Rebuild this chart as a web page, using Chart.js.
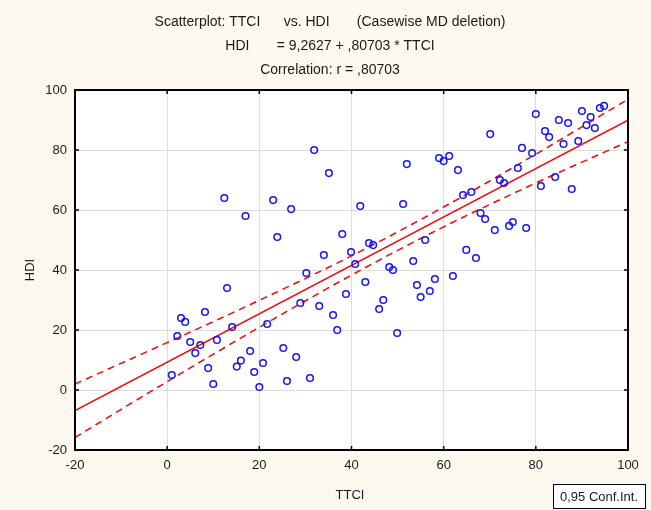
<!DOCTYPE html>
<html>
<head>
<meta charset="utf-8">
<script src="https://cdn.jsdelivr.net/npm/chart.js@4/dist/chart.umd.min.js"></script>
<style>
  body { margin: 0; background: #fdf9ee; }
  #wrap { width: 651px; height: 510px; position: relative; }
</style>
</head>
<body>
<div id="wrap"><canvas id="scatter-chart"></canvas></div>
<script>
const ttci = [1, 2.2, 3, 3.9, 5, 6.1, 7.2, 8.2, 8.9, 10, 10.8, 12.4, 13, 14.1, 15.1, 16, 17, 18, 18.9, 20,
  20.8, 21.7, 23, 23.9, 25.2, 26, 26.9, 28, 28.9, 30.2, 31, 31.9, 33, 34, 35.1, 36, 36.9, 38, 38.8, 39.9,
  40.8, 41.9, 43, 43.8, 44.7, 46, 46.9, 48.2, 49, 49.9, 51.2, 52, 53.4, 54.2, 55, 56, 57, 58.1, 59, 60,
  61.2, 62, 63.1, 64.2, 64.9, 66, 67, 68, 69, 70.1, 71.1, 72.2, 73.1, 74.2, 75, 76.1, 77, 77.9, 79.2, 80,
  81.1, 82, 82.9, 84.2, 85, 86, 87, 87.8, 89.2, 90, 91, 91.9, 92.8, 93.9, 94.8];
const hdi = [5, 18, 24, 22.7, 16, 12.3, 15, 26, 7.3, 2, 16.7, 64, 34, 21, 7.8, 9.8, 58, 13, 6, 1,
  9, 22, 63.3, 51, 14, 3, 60.3, 11, 29, 39, 4, 80, 28, 45, 72.3, 25, 20, 52, 32, 46,
  42, 61.3, 36, 49, 48.3, 27, 30, 41, 40, 19, 62, 75.3, 43, 35, 31, 50, 33, 37, 77.3, 76.3,
  78, 38, 73.3, 65, 46.7, 66, 44, 59, 57, 85.3, 53.3, 70, 69, 54.7, 56, 74, 80.7, 54, 79, 92,
  68, 86.3, 84.3, 71, 90, 82, 89, 67, 83, 93, 88.3, 91, 87.3, 94, 94.7];

// regression HDI = 9,2627 + ,80703 * TTCI
const intercept = 9.2627;
const slope = 0.80703;
const fitX = [-20, 100];

// 0,95 confidence band
const bandX = [-20, 0, 20, 40, 60, 80, 100];
const bandUpper = [2.0, 15.8, 29.9, 44.7, 61.0, 78.6, 96.9];
const bandLower = [-15.8, 2.8, 20.9, 38.3, 54.4, 69.0, 82.8];

const titleLines = [
  'Scatterplot: TTCI      vs. HDI       (Casewise MD deletion)',
  'HDI       = 9,2627 + ,80703 * TTCI',
  'Correlation: r = ,80703'
];
const xTicks = [-20, 0, 20, 40, 60, 80, 100];
const yTicks = [-20, 0, 20, 40, 60, 80, 100];

const FONT = '"Liberation Sans", Arial, sans-serif';

const framePlugin = {
  id: 'frame',
  beforeDraw(chart) {
    const { ctx, chartArea: a } = chart;
    ctx.save();
    ctx.fillStyle = '#ffffff';
    ctx.fillRect(a.left, a.top, a.right - a.left, a.bottom - a.top);
    ctx.restore();
  },
  afterDraw(chart) {
    const { ctx, chartArea: a, scales } = chart;
    ctx.save();
    ctx.strokeStyle = '#000';
    ctx.lineWidth = 2;
    ctx.strokeRect(a.left, a.top, a.right - a.left, a.bottom - a.top);
    // inward tick marks
    ctx.lineWidth = 1.5;
    ctx.beginPath();
    xTicks.forEach((v) => {
      const px = scales.x.getPixelForValue(v);
      ctx.moveTo(px, a.top); ctx.lineTo(px, a.top + 4);
      ctx.moveTo(px, a.bottom); ctx.lineTo(px, a.bottom - 4);
    });
    yTicks.forEach((v) => {
      const py = scales.y.getPixelForValue(v);
      ctx.moveTo(a.left, py); ctx.lineTo(a.left + 4, py);
      ctx.moveTo(a.right, py); ctx.lineTo(a.right - 4, py);
    });
    ctx.stroke();

    // titles
    ctx.fillStyle = '#1a1a1a';
    ctx.font = '14px ' + FONT;
    ctx.textAlign = 'center';
    ctx.textBaseline = 'middle';
    titleLines.forEach((line, i) => ctx.fillText(line, 330, 22 + i * 24));

    // axis titles
    ctx.font = '13px ' + FONT;
    ctx.fillText('TTCI', 350, 495);
    ctx.save();
    ctx.translate(30, 270);
    ctx.rotate(-Math.PI / 2);
    ctx.fillText('HDI', 0, 0);
    ctx.restore();

    // conf. int. box
    ctx.fillStyle = '#ffffff';
    ctx.fillRect(553, 484, 92, 24);
    ctx.strokeStyle = '#000';
    ctx.lineWidth = 1;
    ctx.strokeRect(553.5, 484.5, 92, 24);
    ctx.fillStyle = '#1a1a1a';
    ctx.fillText('0,95 Conf.Int.', 599, 497);
    ctx.restore();
  }
};

const ctx = document.querySelector('#scatter-chart');

const datasets = [
  {
    type: 'scatter',
    label: 'HDI',
    data: ttci.map((x, i) => ({ x, y: hdi[i] })),
    borderColor: '#1414ff',
    backgroundColor: 'rgba(0,0,0,0)',
    borderWidth: 1.5,
    pointRadius: 3.3,
    order: 1
  },
  {
    type: 'line',
    label: 'Fit',
    data: fitX.map((x) => ({ x, y: intercept + slope * x })),
    borderColor: '#ff0000',
    borderWidth: 1.5,
    pointRadius: 0,
    order: 2
  },
  {
    type: 'line',
    label: 'Upper',
    data: bandX.map((x, i) => ({ x, y: bandUpper[i] })),
    borderColor: '#ff0000',
    borderWidth: 1.5,
    borderDash: [7, 5],
    cubicInterpolationMode: 'monotone',
    pointRadius: 0,
    order: 3
  },
  {
    type: 'line',
    label: 'Lower',
    data: bandX.map((x, i) => ({ x, y: bandLower[i] })),
    borderColor: '#ff0000',
    borderWidth: 1.5,
    borderDash: [7, 5],
    cubicInterpolationMode: 'monotone',
    pointRadius: 0,
    order: 3
  }
];

const options = {
  responsive: true,
  maintainAspectRatio: false,
  animation: false,
  layout: { padding: { top: 90, right: 23, left: 0, bottom: 0 } },
  plugins: {
    legend: { display: false },
    title: { display: false },
    tooltip: { enabled: false }
  },
  scales: {
    x: {
      type: 'linear',
      position: 'bottom',
      min: -20,
      max: 100,
      afterFit: (axis) => { axis.height = 60; },
      afterBuildTicks: (axis) => { axis.ticks = xTicks.map((value) => ({ value })); },
      grid: { color: '#dcdcdc', drawTicks: false },
      border: { display: false },
      ticks: { color: '#1a1a1a', font: { family: FONT, size: 13 }, padding: 8, maxRotation: 0 }
    },
    y: {
      type: 'linear',
      min: -20,
      max: 100,
      afterFit: (axis) => { axis.width = 75; },
      afterBuildTicks: (axis) => { axis.ticks = yTicks.map((value) => ({ value })); },
      grid: { color: '#dcdcdc', drawTicks: false },
      border: { display: false },
      ticks: { color: '#1a1a1a', font: { family: FONT, size: 13 }, padding: 8 }
    }
  }
};

new Chart(ctx, { type: 'scatter', data: { datasets }, options, plugins: [framePlugin] });
</script>
</body>
</html>
